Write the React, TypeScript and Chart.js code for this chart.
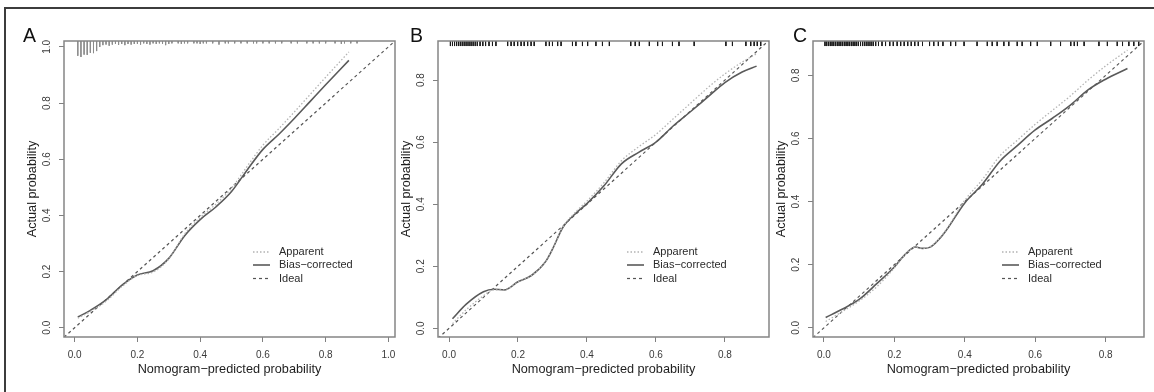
import React, { useEffect, useRef } from "react";
import { Chart, registerables } from "chart.js";

Chart.register(...registerables);

const FONT = "'Liberation Sans', Arial, Helvetica, sans-serif";

// ---------- text ----------
const X_TITLE = "Nomogram\u2212predicted probability";
const Y_TITLE = "Actual probability";
const LEGEND_LABELS = ["Apparent", "Bias\u2212corrected", "Ideal"];
const PANEL_LETTERS = ["A", "B", "C"];

// ---------- tick values ----------
const TICKS_A = [0, 0.2, 0.4, 0.6, 0.8, 1.0];
const TICKS_BC = [0, 0.2, 0.4, 0.6, 0.8];

// ---------- panel A ----------
const A_X = [0.01, 0.05, 0.1, 0.15, 0.2, 0.25, 0.3, 0.35, 0.4, 0.45, 0.5, 0.55, 0.6, 0.65, 0.7, 0.75, 0.8, 0.874];
const A_APPARENT = [0.034, 0.058, 0.094, 0.146, 0.186, 0.198, 0.245, 0.333, 0.392, 0.44, 0.497, 0.575, 0.65, 0.708, 0.768, 0.83, 0.892, 0.982];
const A_BIAS = [0.038, 0.062, 0.099, 0.151, 0.188, 0.203, 0.247, 0.327, 0.385, 0.43, 0.485, 0.562, 0.635, 0.688, 0.745, 0.805, 0.865, 0.952];
const A_RUG_X = [0.01, 0.02, 0.03, 0.04, 0.05, 0.06, 0.07, 0.08, 0.09, 0.10, 0.11, 0.12, 0.13, 0.14, 0.15, 0.16, 0.17, 0.18, 0.19, 0.20, 0.21, 0.22, 0.23, 0.24, 0.25, 0.26, 0.27, 0.28, 0.29, 0.30, 0.31, 0.33, 0.34, 0.35, 0.36, 0.38, 0.39, 0.40, 0.41, 0.42, 0.44, 0.46, 0.48, 0.49, 0.51, 0.53, 0.55, 0.57, 0.58, 0.60, 0.62, 0.64, 0.66, 0.69, 0.71, 0.74, 0.76, 0.78, 0.80, 0.83, 0.85, 0.86, 0.88, 0.90];
const A_RUG_LEN = [0.050, 0.054, 0.046, 0.047, 0.040, 0.041, 0.034, 0.020, 0.014, 0.012, 0.016, 0.012, 0.010, 0.013, 0.010, 0.014, 0.010, 0.012, 0.010, 0.010, 0.012, 0.008, 0.010, 0.012, 0.008, 0.010, 0.008, 0.010, 0.014, 0.010, 0.008, 0.008, 0.010, 0.008, 0.008, 0.008, 0.008, 0.010, 0.008, 0.008, 0.008, 0.012, 0.008, 0.008, 0.008, 0.008, 0.008, 0.008, 0.008, 0.008, 0.008, 0.008, 0.008, 0.008, 0.008, 0.008, 0.008, 0.008, 0.008, 0.008, 0.010, 0.008, 0.008, 0.008];

// ---------- panel B ----------
const B_X = [0.01, 0.05, 0.1, 0.13, 0.16, 0.2, 0.24, 0.28, 0.3, 0.33, 0.37, 0.4, 0.45, 0.5, 0.55, 0.6, 0.65, 0.7, 0.75, 0.8, 0.85, 0.892];
const B_APPARENT = [0.015, 0.06, 0.105, 0.124, 0.124, 0.15, 0.171, 0.215, 0.255, 0.326, 0.378, 0.41, 0.47, 0.54, 0.585, 0.625, 0.675, 0.725, 0.775, 0.82, 0.858, 0.885];
const B_BIAS = [0.031, 0.078, 0.118, 0.126, 0.124, 0.15, 0.171, 0.215, 0.255, 0.325, 0.373, 0.402, 0.46, 0.53, 0.567, 0.6, 0.652, 0.698, 0.745, 0.792, 0.826, 0.845];
const B_RUG_X = [0.004, 0.01, 0.016, 0.022, 0.028, 0.034, 0.04, 0.046, 0.052, 0.058, 0.064, 0.07, 0.076, 0.082, 0.09, 0.098, 0.106, 0.116, 0.126, 0.136, 0.17, 0.18, 0.189, 0.199, 0.209, 0.218, 0.228, 0.238, 0.247, 0.281, 0.291, 0.3, 0.315, 0.325, 0.358, 0.368, 0.387, 0.402, 0.426, 0.445, 0.465, 0.527, 0.54, 0.552, 0.581, 0.605, 0.619, 0.648, 0.667, 0.711, 0.803, 0.822, 0.861, 0.875, 0.885, 0.894, 0.904];

// ---------- panel C ----------
const C_X = [0.005, 0.05, 0.1, 0.15, 0.2, 0.23, 0.26, 0.28, 0.3, 0.34, 0.4, 0.45, 0.5, 0.55, 0.6, 0.65, 0.7, 0.75, 0.8, 0.862];
const C_APPARENT = [0.02, 0.05, 0.085, 0.13, 0.19, 0.232, 0.256, 0.252, 0.256, 0.3, 0.404, 0.47, 0.545, 0.595, 0.645, 0.69, 0.735, 0.785, 0.83, 0.88];
const C_BIAS = [0.033, 0.058, 0.09, 0.14, 0.193, 0.232, 0.256, 0.252, 0.255, 0.298, 0.396, 0.455, 0.528, 0.578, 0.627, 0.665, 0.706, 0.754, 0.788, 0.822];
const C_RUG_X = [0.003, 0.008, 0.013, 0.018, 0.023, 0.028, 0.033, 0.038, 0.043, 0.048, 0.053, 0.058, 0.063, 0.068, 0.073, 0.078, 0.083, 0.088, 0.093, 0.098, 0.104, 0.11, 0.116, 0.122, 0.128, 0.134, 0.14, 0.147, 0.155, 0.165, 0.175, 0.187, 0.197, 0.208, 0.218, 0.228, 0.238, 0.248, 0.258, 0.268, 0.28, 0.3, 0.312, 0.325, 0.338, 0.36, 0.374, 0.398, 0.435, 0.464, 0.478, 0.492, 0.511, 0.525, 0.549, 0.563, 0.587, 0.606, 0.644, 0.672, 0.701, 0.711, 0.72, 0.739, 0.781, 0.805, 0.833, 0.848, 0.866, 0.88, 0.894];

// ---------- axis ranges ----------
const A_XRANGE = [-0.034, 1.021];
const A_YRANGE = [-0.033, 1.021];
const B_XRANGE = [-0.032, 0.928];
const B_YRANGE = [-0.028, 0.926];
const C_XRANGE = [-0.031, 0.909];
const C_YRANGE = [-0.029, 0.909];

// ---------- styles ----------
const BOX_COLOR = "#858585";
const TICK_COLOR = "#808080";
const LABEL_COLOR = "#3a3a3a";
const TITLE_COLOR = "#1e1e1e";
const RUG_SHORT = 0.017;

type PanelCfg = {
  left: number;
  letter: string;
  letterDx: number;
  xs: number[];
  apparent: number[];
  bias: number[];
  rugX: number[];
  rugLen: number[] | null;
  rugColor: string;
  xRange: number[];
  yRange: number[];
  ticks: number[];
};

const PANELS: PanelCfg[] = [
  { left: 0, letter: PANEL_LETTERS[0], letterDx: -41, xs: A_X, apparent: A_APPARENT, bias: A_BIAS, rugX: A_RUG_X, rugLen: A_RUG_LEN, rugColor: "#8c8c8c", xRange: A_XRANGE, yRange: A_YRANGE, ticks: TICKS_A },
  { left: 374, letter: PANEL_LETTERS[1], letterDx: -28, xs: B_X, apparent: B_APPARENT, bias: B_BIAS, rugX: B_RUG_X, rugLen: null, rugColor: "#1a1a1a", xRange: B_XRANGE, yRange: B_YRANGE, ticks: TICKS_BC },
  { left: 749, letter: PANEL_LETTERS[2], letterDx: -20, xs: C_X, apparent: C_APPARENT, bias: C_BIAS, rugX: C_RUG_X, rugLen: null, rugColor: "#1a1a1a", xRange: C_XRANGE, yRange: C_YRANGE, ticks: TICKS_BC },
];

function rugData(xs: number[], lens: number[] | null, yMin: number, yMax: number) {
  const span = yMax - yMin;
  const out: { x: number; y: number | null }[] = [];
  xs.forEach((x, i) => {
    const len = lens ? lens[i] ?? 0.008 : RUG_SHORT;
    out.push({ x, y: yMax });
    out.push({ x, y: yMax - len * span });
    out.push({ x, y: null });
  });
  return out;
}

const decorPlugin = {
  id: "decor",
  afterDatasetsDraw(chart: any, _args: any, opts: any) {
    const { ctx, chartArea: a } = chart;
    ctx.save();
    // box
    ctx.strokeStyle = BOX_COLOR;
    ctx.lineWidth = 1.5;
    ctx.setLineDash([]);
    ctx.strokeRect(a.left, a.top, a.right - a.left, a.bottom - a.top);
    // legend
    const lx = a.left + 189;
    const rows = [a.top + 211, a.top + 224, a.top + 237.5];
    ctx.font = `11px ${FONT}`;
    ctx.textBaseline = "middle";
    ctx.textAlign = "left";
    for (let i = 0; i < 3; i++) {
      const ds = chart.data.datasets[i];
      ctx.strokeStyle = ds.borderColor;
      ctx.lineWidth = ds.borderWidth;
      ctx.setLineDash(ds.borderDash || []);
      ctx.beginPath();
      ctx.moveTo(lx, rows[i]);
      ctx.lineTo(lx + 17, rows[i]);
      ctx.stroke();
      ctx.setLineDash([]);
      ctx.fillStyle = "#2a2a2a";
      ctx.fillText(LEGEND_LABELS[i], lx + 26, rows[i]);
    }
    // panel letter
    ctx.font = `19.5px ${FONT}`;
    ctx.textBaseline = "alphabetic";
    ctx.fillStyle = "#111";
    ctx.fillText(opts.letter, a.left + opts.letterDx, 42);
    ctx.restore();
  },
};

function Panel({ cfg }: { cfg: PanelCfg }) {
  const ref = useRef<HTMLCanvasElement>(null);
  useEffect(() => {
    if (!ref.current) return;
    const fmt = (v: any) => Number(v).toFixed(1);
    const setTicks = (s: any) => {
      s.ticks = cfg.ticks.map((v) => ({ value: v }));
    };
    const chart = new Chart(ref.current, {
      type: "line",
      data: {
        datasets: [
          {
            label: LEGEND_LABELS[0],
            data: cfg.xs.map((x, i) => ({ x, y: cfg.apparent[i] })),
            borderColor: "#b3b3b3",
            borderWidth: 1.3,
            borderDash: [1.5, 2],
            pointRadius: 0,
            cubicInterpolationMode: "monotone",
            fill: false,
          },
          {
            label: LEGEND_LABELS[1],
            data: cfg.xs.map((x, i) => ({ x, y: cfg.bias[i] })),
            borderColor: "#5a5a5a",
            borderWidth: 1.6,
            pointRadius: 0,
            cubicInterpolationMode: "monotone",
            fill: false,
          },
          {
            label: LEGEND_LABELS[2],
            data: [
              { x: cfg.xRange[0], y: cfg.xRange[0] },
              { x: cfg.xRange[1], y: cfg.xRange[1] },
            ],
            borderColor: "#555555",
            borderWidth: 1.2,
            borderDash: [3, 3],
            pointRadius: 0,
            tension: 0,
            fill: false,
          },
          {
            label: "rug",
            data: rugData(cfg.rugX, cfg.rugLen, cfg.yRange[0], cfg.yRange[1]),
            borderColor: cfg.rugColor,
            borderWidth: 1,
            pointRadius: 0,
            tension: 0,
            spanGaps: false,
            fill: false,
          },
        ],
      } as any,
      options: {
        animation: false,
        responsive: false,
        maintainAspectRatio: false,
        layout: { padding: { top: 41, right: 5, bottom: 0, left: 0 } },
        plugins: {
          legend: { display: false },
          tooltip: { enabled: false },
          decor: { letter: cfg.letter, letterDx: cfg.letterDx },
        } as any,
        scales: {
          x: {
            type: "linear",
            min: cfg.xRange[0],
            max: cfg.xRange[1],
            afterBuildTicks: setTicks,
            afterFit: (s: any) => {
              s.height = 55;
              s.paddingLeft = 0;
              s.paddingRight = 0;
            },
            ticks: {
              callback: fmt,
              autoSkip: false,
              maxRotation: 0,
              padding: 7,
              color: LABEL_COLOR,
              font: { family: FONT, size: 10 },
            },
            grid: { display: true, drawOnChartArea: false, drawTicks: true, tickLength: 5, color: TICK_COLOR, lineWidth: 1 },
            border: { display: false },
            title: {
              display: true,
              text: X_TITLE,
              color: TITLE_COLOR,
              font: { family: FONT, size: 12.7 },
              padding: { top: 0, bottom: 14.4 },
            },
          },
          y: {
            type: "linear",
            min: cfg.yRange[0],
            max: cfg.yRange[1],
            afterBuildTicks: setTicks,
            afterFit: (s: any) => {
              s.width = 64;
              s.paddingTop = 0;
              s.paddingBottom = 0;
            },
            ticks: {
              callback: fmt,
              autoSkip: false,
              minRotation: 90,
              maxRotation: 90,
              crossAlign: "center",
              padding: 5,
              color: LABEL_COLOR,
              font: { family: FONT, size: 10 },
            },
            grid: { display: true, drawOnChartArea: false, drawTicks: true, tickLength: 5, color: TICK_COLOR, lineWidth: 1 },
            border: { display: false },
            title: {
              display: true,
              text: Y_TITLE,
              color: TITLE_COLOR,
              font: { family: FONT, size: 12.7 },
              padding: { top: 24.9, bottom: 0 },
            },
          },
        },
      } as any,
      plugins: [decorPlugin],
    });
    return () => chart.destroy();
  }, [cfg]);
  return (
    <canvas
      ref={ref}
      width={400}
      height={392}
      style={{ position: "absolute", left: cfg.left, top: 0, width: 400, height: 392 }}
    />
  );
}

export default function App() {
  return (
    <div style={{ position: "absolute", left: 0, top: 0, width: 1154, height: 392, background: "#fff", overflow: "hidden" }}>
      <div
        style={{
          position: "absolute",
          left: 4,
          top: 7,
          width: 1160,
          height: 400,
          borderTop: "2px solid #3c3c3c",
          borderLeft: "2px solid #3c3c3c",
        }}
      />
      {PANELS.map((p) => (
        <Panel key={p.letter} cfg={p} />
      ))}
    </div>
  );
}
